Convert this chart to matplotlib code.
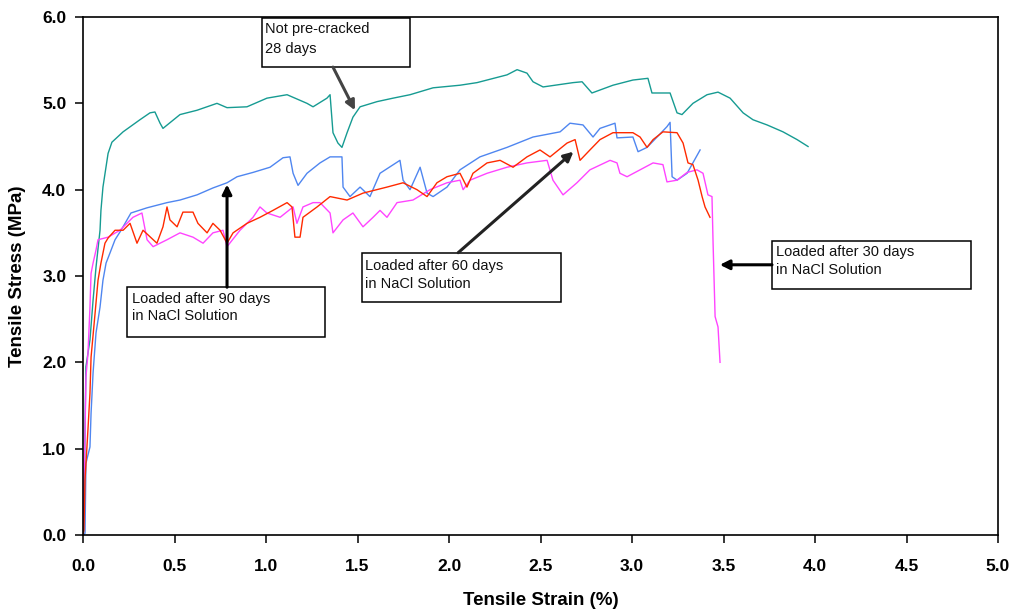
import matplotlib
matplotlib.use("Agg")
import matplotlib.pyplot as plt
from matplotlib.patches import Rectangle

plt.rcParams['font.family'] = ['Liberation Sans', 'DejaVu Sans']

# Tensile stress-strain curves
# Not pre-cracked, 28 days
strain_28 = [0.0, 0.005, 0.011, 0.016, 0.038, 0.055, 0.071, 0.093, 0.098, 0.109,
             0.137, 0.158, 0.219, 0.311, 0.366, 0.393, 0.421, 0.437, 0.530, 0.623,
             0.732, 0.787, 0.896, 1.005, 1.115, 1.224, 1.257, 1.333, 1.350, 1.366,
             1.393, 1.415, 1.443, 1.475, 1.514, 1.607, 1.694, 1.787, 1.913, 2.060,
             2.153, 2.317, 2.372, 2.426, 2.459, 2.514, 2.678, 2.727, 2.781, 2.896,
             3.005, 3.087, 3.109, 3.208, 3.246, 3.273, 3.333, 3.410, 3.470, 3.536,
             3.607, 3.661, 3.738, 3.825, 3.902, 3.962]
stress_28 = [0.0, 0.06, 1.25, 1.95, 2.26, 2.72, 3.10, 3.53, 3.76, 4.03,
             4.42, 4.55, 4.67, 4.81, 4.89, 4.90, 4.77, 4.71, 4.87, 4.92,
             5.00, 4.95, 4.96, 5.06, 5.10, 5.00, 4.96, 5.06, 5.10, 4.66,
             4.54, 4.49, 4.66, 4.84, 4.96, 5.02, 5.06, 5.10, 5.18, 5.21,
             5.24, 5.33, 5.39, 5.35, 5.25, 5.19, 5.24, 5.25, 5.12, 5.21,
             5.27, 5.29, 5.12, 5.12, 4.89, 4.87, 5.00, 5.10, 5.13, 5.06,
             4.89, 4.81, 4.75, 4.67, 4.58, 4.50]

# Loaded after 90 days in NaCl solution
strain_90 = [0.0, 0.011, 0.016, 0.038, 0.044, 0.055, 0.071, 0.093, 0.109, 0.126,
             0.148, 0.175, 0.208, 0.262, 0.350, 0.459, 0.530, 0.623, 0.710, 0.787,
             0.842, 0.929, 1.022, 1.093, 1.131, 1.148, 1.175, 1.224, 1.295, 1.350,
             1.415, 1.421, 1.459, 1.514, 1.568, 1.623, 1.732, 1.749, 1.787, 1.842,
             1.880, 1.913, 1.989, 2.060, 2.169, 2.317, 2.459, 2.607, 2.661, 2.732,
             2.787, 2.825, 2.907, 2.918, 3.005, 3.033, 3.082, 3.137, 3.191, 3.208,
             3.219, 3.246, 3.301, 3.372]
stress_90 = [0.0, 0.02, 0.83, 1.02, 1.41, 1.88, 2.34, 2.64, 2.95, 3.15,
             3.27, 3.42, 3.53, 3.73, 3.79, 3.85, 3.88, 3.94, 4.02, 4.08,
             4.15, 4.20, 4.26, 4.37, 4.38, 4.19, 4.05, 4.19, 4.31, 4.38,
             4.38, 4.03, 3.92, 4.03, 3.92, 4.19, 4.34, 4.11, 4.00, 4.26,
             3.96, 3.92, 4.03, 4.23, 4.38, 4.49, 4.61, 4.67, 4.77, 4.75,
             4.61, 4.71, 4.77, 4.60, 4.61, 4.44, 4.49, 4.61, 4.73, 4.78,
             4.15, 4.11, 4.19, 4.46]

# Loaded after 60 days in NaCl solution
strain_60 = [0.0, 0.005, 0.011, 0.027, 0.038, 0.044, 0.066, 0.082, 0.098, 0.120,
             0.137, 0.175, 0.219, 0.257, 0.295, 0.328, 0.404, 0.437, 0.459, 0.475,
             0.514, 0.546, 0.601, 0.628, 0.678, 0.710, 0.749, 0.787, 0.820, 0.896,
             0.967, 1.038, 1.115, 1.142, 1.158, 1.186, 1.202, 1.279, 1.350, 1.443,
             1.530, 1.661, 1.749, 1.825, 1.880, 1.934, 1.989, 2.060, 2.098, 2.131,
             2.208, 2.279, 2.350, 2.426, 2.497, 2.552, 2.645, 2.689, 2.716, 2.770,
             2.825, 2.896, 3.005, 3.044, 3.082, 3.115, 3.169, 3.246, 3.279, 3.306,
             3.333, 3.361, 3.383, 3.399, 3.426]
stress_60 = [0.0, 0.06, 0.64, 1.22, 1.64, 2.06, 2.57, 2.95, 3.15, 3.38,
             3.44, 3.53, 3.53, 3.61, 3.38, 3.53, 3.38, 3.57, 3.80, 3.65,
             3.57, 3.74, 3.74, 3.61, 3.50, 3.61, 3.53, 3.38, 3.50, 3.61,
             3.68, 3.76, 3.85, 3.80, 3.45, 3.45, 3.68, 3.80, 3.92, 3.88,
             3.96, 4.03, 4.08, 4.00, 3.92, 4.08, 4.15, 4.19, 4.03, 4.19,
             4.31, 4.34, 4.26, 4.38, 4.46, 4.38, 4.54, 4.58, 4.34, 4.46,
             4.58, 4.66, 4.66, 4.61, 4.49, 4.58, 4.67, 4.66, 4.54, 4.31,
             4.29, 4.11, 3.92, 3.80, 3.68]

# Loaded after 30 days in NaCl solution
strain_30 = [0.0, 0.002, 0.005, 0.011, 0.016, 0.027, 0.038, 0.044, 0.055, 0.071,
             0.082, 0.137, 0.202, 0.273, 0.322, 0.350, 0.383, 0.459, 0.530, 0.601,
             0.656, 0.710, 0.765, 0.787, 0.858, 0.929, 0.967, 1.005, 1.077, 1.148,
             1.169, 1.202, 1.257, 1.295, 1.350, 1.366, 1.421, 1.475, 1.530, 1.585,
             1.623, 1.661, 1.716, 1.803, 1.896, 1.989, 2.060, 2.077, 2.115, 2.208,
             2.317, 2.426, 2.536, 2.568, 2.623, 2.699, 2.770, 2.880, 2.918, 2.934,
             2.973, 3.044, 3.115, 3.169, 3.191, 3.246, 3.301, 3.355, 3.388, 3.415,
             3.437, 3.443, 3.454, 3.470, 3.481]
stress_30 = [0.0, 0.06, 0.64, 1.18, 1.83, 2.10, 2.64, 3.03, 3.15, 3.30,
             3.42, 3.45, 3.53, 3.68, 3.73, 3.42, 3.34, 3.42, 3.50, 3.45,
             3.38, 3.50, 3.53, 3.34, 3.53, 3.68, 3.80, 3.73, 3.68, 3.80,
             3.61, 3.80, 3.85, 3.85, 3.73, 3.50, 3.65, 3.73, 3.57, 3.68,
             3.76, 3.68, 3.85, 3.88, 4.00, 4.08, 4.11, 4.00, 4.11, 4.19,
             4.26, 4.31, 4.34, 4.11, 3.94, 4.08, 4.23, 4.34, 4.31, 4.19,
             4.15, 4.23, 4.31, 4.29, 4.09, 4.11, 4.20, 4.23, 4.19, 3.94,
             3.92, 3.38, 2.53, 2.41, 2.00]

x_ticks = [0.0, 0.5, 1.0, 1.5, 2.0, 2.5, 3.0, 3.5, 4.0, 4.5, 5.0]
y_ticks = [0.0, 1.0, 2.0, 3.0, 4.0, 5.0, 6.0]

fig = plt.figure(figsize=(10.16, 6.12), dpi=100)
ax = fig.add_axes([0.0817, 0.1258, 0.9006, 0.8464])

lw = 1.0
ax.plot(strain_28, stress_28, color="#169b92", linewidth=lw)
ax.plot(strain_90, stress_90, color="#4f86f0", linewidth=lw)
ax.plot(strain_30, stress_30, color="#ff44ff", linewidth=lw)
ax.plot(strain_60, stress_60, color="#ff2a00", linewidth=lw)

ax.set_xlim(0, 5)
ax.set_ylim(0, 6)
ax.set_xticks(x_ticks)
ax.set_yticks(y_ticks)
ax.set_xticklabels([f"{t:.1f}" for t in x_ticks], fontweight="bold")
ax.set_yticklabels([f"{t:.1f}" for t in y_ticks], fontweight="bold")
ax.tick_params(axis="both", direction="out", length=6, width=1.1, labelsize=12.5)
ax.tick_params(axis="x", pad=11)
ax.tick_params(axis="y", pad=6)
for s in ax.spines.values():
    s.set_linewidth(1.2)

ax.set_xlabel("Tensile Strain (%)", fontsize=13.5, fontweight="bold", va="center")
ax.set_ylabel("Tensile Stress (MPa)", fontsize=13.5, fontweight="bold", va="center")
ax.xaxis.set_label_coords(0.5, -0.1255)
ax.yaxis.set_label_coords(-0.072, 0.5)

# annotation boxes: (x0, y0, x1, y1) in data units, text anchor, arrow start/tip
boxes = [
    ((0.978, 5.42, 1.787, 5.99), (0.995, 5.745), "Not pre-cracked\n28 days", 1.5,
     (1.366, 5.42), (1.486, 4.92), "#444444"),
    ((0.240, 2.29, 1.322, 2.87), (0.268, 2.635), "Loaded after 90 days\nin NaCl Solution", 1.35,
     (0.787, 2.87), (0.787, 4.06), "black"),
    ((1.525, 2.70, 2.612, 3.27), (1.541, 3.015), "Loaded after 60 days\nin NaCl Solution", 1.35,
     (2.05, 3.27), (2.68, 4.44), "#222222"),
    ((3.765, 2.85, 4.852, 3.41), (3.787, 3.175), "Loaded after 30 days\nin NaCl Solution", 1.35,
     (3.765, 3.13), (3.48, 3.13), "black"),
]
for (x0, y0, x1, y1), (tx, ty), label, spacing, start, tip, acol in boxes:
    ax.add_patch(Rectangle((x0, y0), x1 - x0, y1 - y0, fill=False,
                           edgecolor="black", linewidth=1.1, zorder=4))
    ax.text(tx, ty, label, fontsize=10.5, ha="left", va="center",
            linespacing=spacing, color="#111111", zorder=5)
    ax.annotate("", xy=tip, xytext=start,
                arrowprops=dict(arrowstyle="-|>", color=acol, lw=2.2,
                                mutation_scale=14, shrinkA=0, shrinkB=0),
                zorder=5)

plt.savefig("out.png", dpi=100)
